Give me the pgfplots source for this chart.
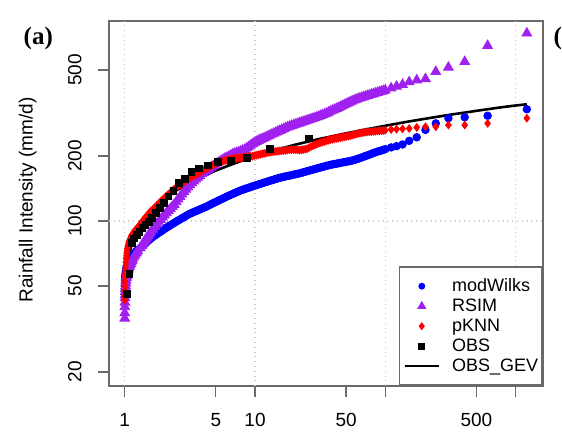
\documentclass[border=0pt]{standalone}
\usepackage{fontspec}
\setmainfont{Liberation Sans}
\newfontfamily\panelfont{Liberation Serif}
\usepackage{pgfplots}
\pgfplotsset{compat=1.18}
\definecolor{rsim}{HTML}{A020F0}
\definecolor{boxgray}{HTML}{6A6A6A}
\definecolor{gridgray}{HTML}{C8C8C8}

% Return period (years) vs. rainfall intensity (mm/d)
\pgfplotstableread{
T v
1.0005 46
1.001 48
1.002 50
1.0035 51.5
1.005 53
1.007 54
1.009 55
1.0125 56
1.016 57
1.02 58
1.025 59
1.03 60
1.035 60.8
1.04 61.5
1.047 62.3
1.055 63
1.063 63.8
1.072 64.5
1.082 65.2
1.096 66
1.11 66.8
1.122 67.5
1.135 68.2
1.148 69
1.175 70.3
1.202 71.5
1.23 72.5
1.259 73.5
1.318 75
1.380 77
1.445 79
1.514 81
1.585 83
1.698 85.5
1.820 88
1.950 90.5
2.089 93
2.239 95.5
2.399 98
2.570 100.5
2.754 103
2.951 105.5
3.162 108
3.388 110
3.631 112
3.890 114
4.169 116
4.467 118.5
4.786 121
5.129 123.5
5.495 126
5.888 128.5
6.310 131
6.761 133.5
7.244 136
7.762 138.5
8.318 140.5
8.913 142.5
9.550 144.5
10.23 146.5
10.96 148.5
11.75 150.5
12.59 152.5
13.49 154.5
14.45 156.5
15.49 158.5
16.60 160
17.78 161.5
19.05 163
20.42 164.5
21.88 166
23.44 168
25.12 170
26.92 172
28.84 174
30.90 176
33.11 178
35.48 180
38.02 182
40.74 183.5
43.65 185
46.77 186.5
50.12 188
53.70 189.5
57.54 191.5
61.66 194
66.07 197
70.79 200
75.86 203
81.28 206.5
87.10 209.5
93.33 212
100 215
110.9 219
122.0 222
135.6 226
152.5 235
174.3 244
203.3 264
244.0 283
305.0 299
406.7 302
610.0 307
1220 329
1.3490 76
1.4125 78
1.4791 80
1.5488 82
1.6406 84.2
1.7579 86.8
1.8836 89.2
2.0184 91.8
2.1627 94.2
2.3174 96.8
2.4831 99.2
2.6607 101.8
2.8510 104.2
3.0549 106.8
3.2734 109
3.5075 111
3.7584 113
4.0272 115
4.3152 117.2
4.6238 119.8
4.9545 122.2
5.3088 124.8
5.6885 127.2
6.0954 129.8
6.5313 132.2
6.9984 134.8
7.4989 137.2
8.0353 139.5
8.6099 141.5
9.2257 143.5
9.8855 145.5
10.593 147.5
11.350 149.5
12.162 151.5
13.032 153.5
13.964 155.5
14.962 157.5
16.032 159.2
17.179 160.8
18.408 162.2
19.724 163.8
21.135 165.2
22.646 167
24.266 169
26.002 171
27.861 173
29.854 175
31.989 177
34.277 179
36.728 181
39.355 182.8
42.170 184.2
45.186 185.8
48.417 187.2
51.880 188.8
55.590 190.5
59.566 192.8
63.826 195.5
68.391 198.5
73.282 201.5
78.524 204.8
84.140 208
90.157 210.8
96.605 213.5
}\modwilks

\pgfplotstableread{
T v
1.0005 35.4
1.001 37.5
1.002 40
1.0035 42
1.005 44
1.007 45.5
1.009 47
1.0125 48.5
1.016 50
1.02 51.5
1.025 53
1.03 54.5
1.035 55.5
1.04 56.5
1.047 57.5
1.055 58.5
1.063 59.5
1.072 60.5
1.082 61.5
1.096 62.5
1.11 63.5
1.122 64.5
1.135 65.5
1.148 66.5
1.175 68
1.202 69.5
1.23 71
1.259 72.5
1.318 75
1.380 78.5
1.445 82
1.514 85.5
1.585 89
1.698 94
1.820 99
1.950 104
2.089 109
2.239 114
2.399 119
2.570 126
2.754 133
2.951 140
3.162 147
3.388 153
3.631 159
3.890 165
4.169 170
4.467 175
4.786 180
5.129 185
5.495 190
5.888 195
6.310 199
6.761 204
7.244 207
7.762 210
8.318 214
8.913 220
9.550 227
10.23 233
10.96 238
11.75 242
12.59 247
13.49 252
14.45 257
15.49 262
16.60 267
17.78 272
19.05 276
20.42 280
21.88 284
23.44 288
25.12 292
26.92 296
28.84 300
30.90 305
33.11 310
35.48 315
38.02 322
40.74 328
43.65 334
46.77 341
50.12 348
53.70 355
57.54 362
61.66 368
66.07 373
70.79 378
75.86 383
81.28 388
87.10 393
93.33 398
100 403
110.9 412
122.0 420
135.6 428
152.5 440
174.3 449
203.3 455
244.0 491
305.0 514
406.7 546
610.0 648
1220 740
1.3490 76.8
1.4125 80.2
1.4791 83.8
1.5488 87.2
1.6406 91.5
1.7579 96.5
1.8836 101.5
2.0184 106.5
2.1627 111.5
2.3174 116.5
2.4831 122.5
2.6607 129.5
2.8510 136.5
3.0549 143.5
3.2734 150
3.5075 156
3.7584 162
4.0272 167.5
4.3152 172.5
4.6238 177.5
4.9545 182.5
5.3088 187.5
5.6885 192.5
6.0954 197
6.5313 201.5
6.9984 205.5
7.4989 208.5
8.0353 212
8.6099 217
9.2257 223.5
9.8855 230
10.593 235.5
11.350 240
12.162 244.5
13.032 249.5
13.964 254.5
14.962 259.5
16.032 264.5
17.179 269.5
18.408 274
19.724 278
21.135 282
22.646 286
24.266 290
26.002 294
27.861 298
29.854 302.5
31.989 307.5
34.277 312.5
36.728 318.5
39.355 325
42.170 331
45.186 337.5
48.417 344.5
51.880 351.5
55.590 358.5
59.566 365
63.826 370.5
68.391 375.5
73.282 380.5
78.524 385.5
84.140 390.5
90.157 395.5
96.605 400.5
}\rsim

\pgfplotstableread{
T v
1.0005 43
1.001 45
1.002 47.5
1.0035 50
1.005 52.5
1.007 55
1.009 57
1.0125 59.5
1.016 62
1.02 64.5
1.025 67
1.03 69
1.035 71
1.04 72.5
1.047 74.5
1.055 76
1.063 77.5
1.072 79
1.082 80.5
1.096 82
1.11 83.5
1.122 85
1.135 86
1.148 87
1.175 89
1.202 90.5
1.23 92
1.259 93.5
1.318 97
1.380 100.5
1.445 104
1.514 107.5
1.585 111
1.698 115.5
1.820 120.5
1.950 125.5
2.089 130.5
2.239 135.5
2.399 140.5
2.570 145
2.754 149.5
2.951 154
3.162 158
3.388 162
3.631 166
3.890 170
4.169 174
4.467 178
4.786 181.5
5.129 185
5.495 188
5.888 190.5
6.310 192.5
6.761 194
7.244 195
7.762 196
8.318 197
8.913 198
9.550 199.5
10.23 201.5
10.96 203.5
11.75 205.5
12.59 207.5
13.49 209
14.45 210
15.49 211
16.60 212
17.78 213
19.05 214
20.42 214
21.88 213
23.44 214
25.12 216
26.92 221
28.84 225
30.90 229
33.11 232
35.48 235
38.02 238
40.74 240
43.65 242
46.77 244
50.12 246
53.70 248
57.54 251
61.66 254
66.07 256
70.79 258
75.86 259
81.28 260
87.10 261
93.33 262
100 263
110.9 265
122.0 266
135.6 267
152.5 268
174.3 271
203.3 273
244.0 273
305.0 278
406.7 278
610.0 283
1220 299
1.3490 98.8
1.4125 102.2
1.4791 105.8
1.5488 109.2
1.6406 113.2
1.7579 118
1.8836 123
2.0184 128
2.1627 133
2.3174 138
2.4831 142.8
2.6607 147.2
2.8510 151.8
3.0549 156
3.2734 160
3.5075 164
3.7584 168
4.0272 172
4.3152 176
4.6238 179.8
4.9545 183.2
5.3088 186.5
5.6885 189.2
6.0954 191.5
6.5313 193.2
6.9984 194.5
7.4989 195.5
8.0353 196.5
8.6099 197.5
9.2257 198.8
9.8855 200.5
10.593 202.5
11.350 204.5
12.162 206.5
13.032 208.2
13.964 209.5
14.962 210.5
16.032 211.5
17.179 212.5
18.408 213.5
19.724 214
21.135 213.5
22.646 213.5
24.266 215
26.002 218.5
27.861 223
29.854 227
31.989 230.5
34.277 233.5
36.728 236.5
39.355 239
42.170 241
45.186 243
48.417 245
51.880 247
55.590 249.5
59.566 252.5
63.826 255
68.391 257
73.282 258.5
78.524 259.5
84.140 260.5
90.157 261.5
96.605 262.5
}\pknn

\pgfplotstableread{
T v
26.0 241
13.0 216
8.667 196
6.5 190
5.2 188
4.333 181
3.714 175
3.25 169
2.889 157
2.6 150
2.364 138
2.167 130
2.0 121
1.857 115
1.733 109
1.625 103
1.529 99
1.444 96
1.368 93
1.3 89
1.238 86
1.182 83
1.130 79
1.083 57
1.04 46
}\obs

\pgfplotstableread{
T v
1.03 55.7
1.05 62.5
1.1 73.2
1.15 80.4
1.2 86.0
1.3 94.6
1.4 101.4
1.5 106.9
1.75 117.8
2 126.1
2.5 138.5
3 147.8
4 161.3
5 171.1
7 185.1
10 199.1
15 214.4
20 224.9
30 238.5
50 254.5
75 267
100 276
150 288.5
200 297
300 309
500 323.5
750 335
1000 342.5
1220 347
}\obsgev

\begin{document}
\fontsize{9.5}{11}\selectfont
\begin{tikzpicture}[x=1pt,y=1pt]
\path[use as bounding box] (0,0) rectangle (281,219.5);
\begin{axis}[
  at={(54.5pt,26.5pt)}, anchor=south west,
  scale only axis, width=217pt, height=182.5pt,
  xmode=log, ymode=log,
  xmin=0.7577, xmax=1623, ymin=17.22, ymax=843,
  axis line style={boxgray, line width=0.8pt},
  xtick pos=bottom, ytick pos=left,
  tick align=outside, major tick length=5.5pt,
  tick style={boxgray, line width=0.7pt},
  xtick={1,5,10,50,100,500,1000},
  xticklabels={1,5,10,50,,500,},
  ytick={20,50,100,200,500},
  yticklabels={20,50,100,200,500},
  ticklabel style={font=\fontsize{9.5}{11}\selectfont, inner sep=0pt},
  xticklabel style={anchor=north},
  yticklabel style={rotate=90, anchor=south},
  xticklabel shift=8pt, yticklabel shift=8pt,
  extra x ticks={1,10,100,1000}, extra x tick labels={},
  extra y ticks={100}, extra y tick labels={},
  extra tick style={grid=major, major tick length=0pt,
    tick style={draw=none},
    major grid style={gridgray, dotted, line width=0.7pt}},
  legend cell align=left,
  legend style={at={(1,0)}, anchor=south east, draw=boxgray,
    line width=0.8pt, fill=white, inner xsep=2pt, inner ysep=5pt,
    row sep=1pt, column sep=6pt,
    nodes={inner sep=0pt, text height=7pt, text depth=2pt},
    font=\fontsize{9}{10}\selectfont},
]
\addplot[only marks, mark=*, mark size=1.9pt, color=blue, forget plot] table[x=T, y=v] {\modwilks};
\addplot[only marks, mark=triangle*, mark size=2.8pt, color=rsim, forget plot] table[x=T, y=v] {\rsim};
\addplot[only marks, mark=diamond*, mark size=1.9pt, color=red, forget plot] table[x=T, y=v] {\pknn};
\addplot[only marks, mark=square*, mark size=1.65pt, color=black, forget plot] table[x=T, y=v] {\obs};
\addplot[black, line width=1.3pt, forget plot] table[x=T, y=v] {\obsgev};

\addlegendimage{only marks, mark=*, mark size=1.3pt, color=blue}
\addlegendentry{modWilks}
\addlegendimage{only marks, mark=triangle*, mark size=1.9pt, color=rsim}
\addlegendentry{RSIM}
\addlegendimage{only marks, mark=diamond*, mark size=1.4pt, color=red}
\addlegendentry{pKNN}
\addlegendimage{only marks, mark=square*, mark size=1.3pt, color=black}
\addlegendentry{OBS}
\addlegendimage{black, line width=1.3pt}
\addlegendentry{OBS\_GEV}
\end{axis}
\node[rotate=90, anchor=base, inner sep=0pt] at (16.25,119.5) {Rainfall Intensity (mm/d)};
\node[anchor=base west, inner sep=0pt, font=\panelfont\bfseries\fontsize{12.5}{14}\selectfont] at (11.65,197) {(a)};
\node[anchor=base west, inner sep=0pt, font=\panelfont\bfseries\fontsize{12.5}{14}\selectfont] at (276.6,197) {(};
\end{tikzpicture}
\end{document}
